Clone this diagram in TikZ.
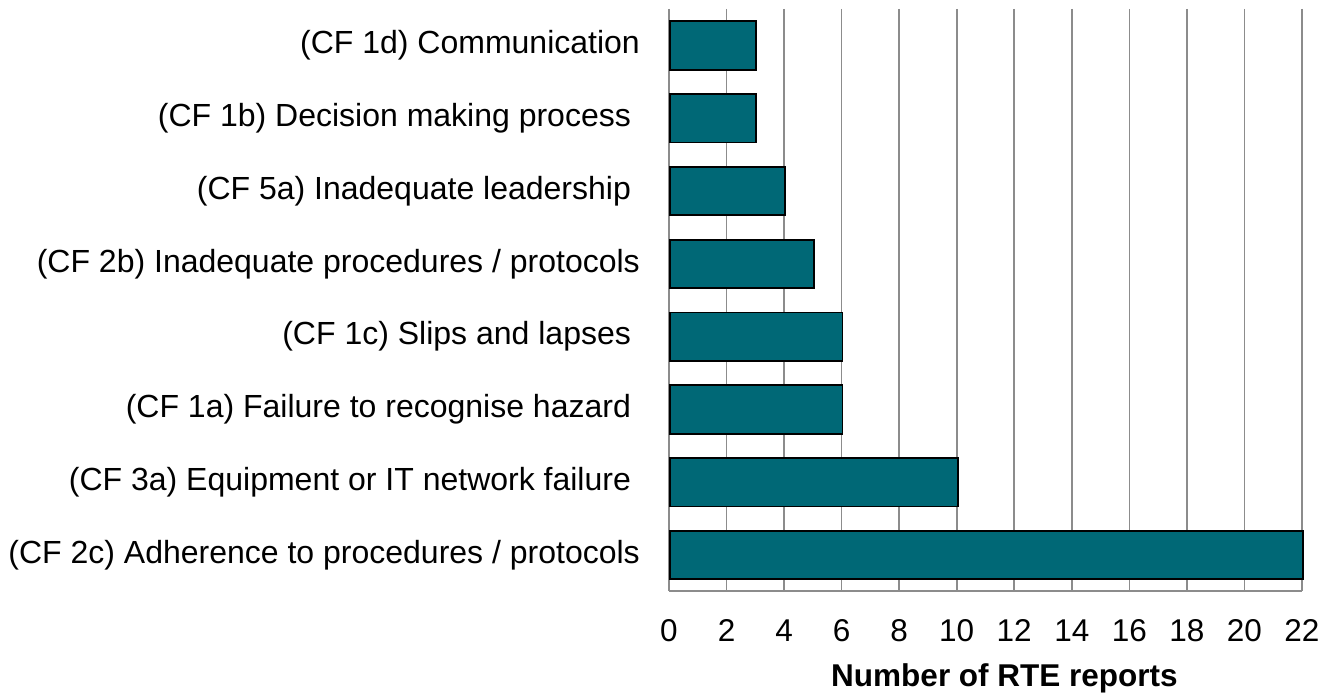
\documentclass[tikz,border=0pt]{standalone}
\usepackage{fontspec}
\setmainfont{Liberation Sans}
\definecolor{barteal}{RGB}{0,104,118}
\definecolor{gridgray}{RGB}{140,140,140}
\begin{document}
\begin{tikzpicture}[x=1pt,y=-1pt,
  bar/.style={draw=black, line width=1.8pt, fill=barteal, minimum height=48.5pt, inner sep=0pt, anchor=west},
  catlabel/.style={anchor=east, inner sep=0pt, font=\fontsize{32}{36}\selectfont},
  ticklabel/.style={anchor=base, inner sep=0pt, font=\fontsize{31.5}{36}\selectfont},
  grid/.style={draw=gridgray, line width=1.6pt}]
\useasboundingbox (0,0) rectangle (1335,693);
\def\xo{669}
\def\ux{28.77}
% grid lines
\foreach \k in {0,2,...,22}{
  \coordinate (gt\k) at ({\xo+\k*\ux},9);
  \coordinate (gb\k) at ({\xo+\k*\ux},591);
  \draw[grid] (gt\k) -- (gb\k);
  \node[ticklabel] (t\k) at ({\xo+\k*\ux},641.5) {\k};
}
\draw[grid] (gb0) -- (gb22);
% bars
\foreach \i/\v in {0/3,1/3,2/4,3/5,4/6,5/6,6/10,7/22}{
  \node[bar, minimum width={\v*\ux*1pt}] (b\i) at (\xo,{45.5+\i*72.8}) {};
}
% category labels
\node[catlabel] (l0) at (640,45.5) {(CF 1d) Communication};
\node[catlabel] (l1) at (631.1,118.3) {(CF 1b) Decision making process};
\node[catlabel] (l2) at (631.1,191.1) {(CF 5a) Inadequate leadership};
\node[catlabel] (l3) at (640,263.9) {(CF 2b) Inadequate procedures / protocols};
\node[catlabel] (l4) at (631.1,336.7) {(CF 1c) Slips and lapses};
\node[catlabel] (l5) at (631.1,409.5) {(CF 1a) Failure to recognise hazard};
\node[catlabel] (l6) at (631.1,482.3) {(CF 3a) Equipment or IT network failure};
\node[catlabel] (l7) at (640,555.1) {(CF 2c) Adherence to procedures / protocols};
% axis title
\node[anchor=base, inner sep=0pt, font=\fontsize{31.5}{36}\selectfont\bfseries] (title) at (1004.5,686) {Number of RTE reports};
\end{tikzpicture}
\end{document}
